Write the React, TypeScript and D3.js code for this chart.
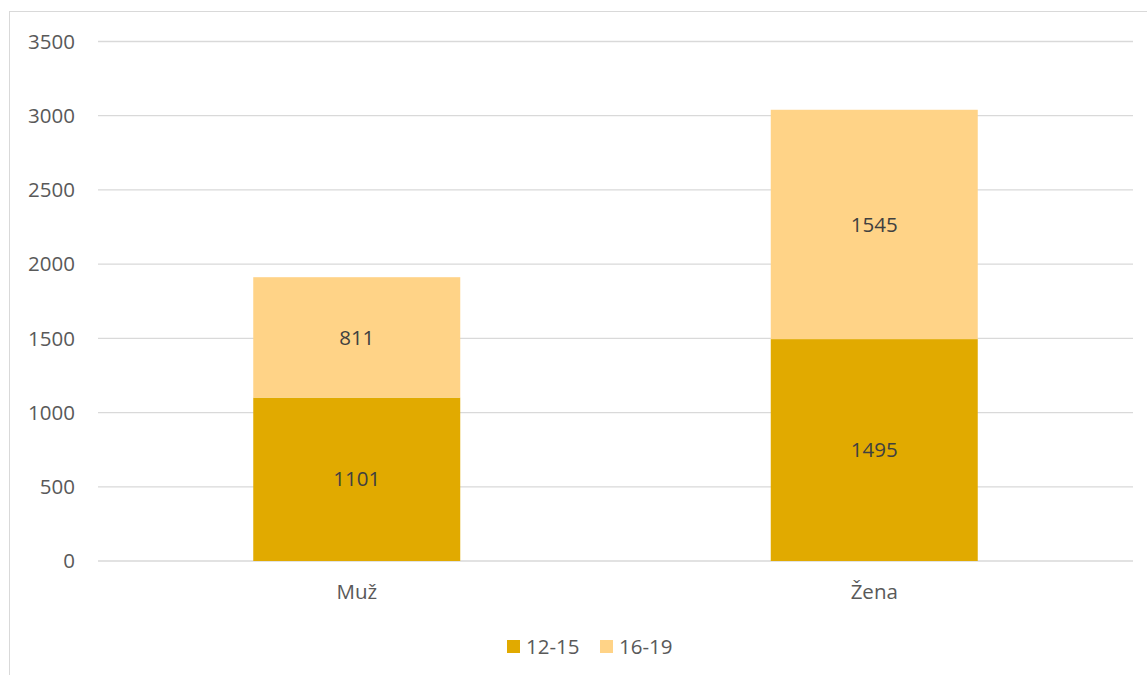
import React from "react";
import * as d3 from "d3";

const categories = ["Muž", "Žena"];
const seriesNames = ["12-15", "16-19"];
const values1215 = [1101, 1495];
const values1619 = [811, 1545];
const yTicks = [0, 500, 1000, 1500, 2000, 2500, 3000, 3500];
const colors = ["#E1AA00", "#FFD387"];

const W = 1147;
const H = 675;
const plotLeft = 98;
const plotRight = 1133;
const plotTop = 41.5;
const plotBottom = 561;
const font = "'Open Sans', 'Liberation Sans', sans-serif";
const textColor = "#595959";
const fs = 20.5;

export default function App() {
  const x = d3.scaleBand().domain(categories).range([plotLeft, plotRight]).paddingInner(0.6).paddingOuter(0.3);
  const y = d3.scaleLinear().domain([0, 3500]).range([plotBottom, plotTop]);
  const rows = categories.map((c, i) => ({ cat: c, s0: values1215[i], s1: values1619[i] }));
  const stack = d3.stack<any>().keys(["s0", "s1"])(rows);
  const legendItems = [
    { name: seriesNames[0], color: colors[0], x: 507 },
    { name: seriesNames[1], color: colors[1], x: 600 },
  ];
  return (
    <svg
      width={W}
      height={H}
      style={{ position: "fixed", left: 0, top: 0, background: "#fff" }}
      fontFamily={font}
    >
      <rect x={9.5} y={11.5} width={W + 10} height={H + 10} fill="#fff" stroke="#D9D9D9" strokeWidth={1} />
      {yTicks.map((t) => (
        <g key={t}>
          <line x1={plotLeft} x2={plotRight} y1={y(t)} y2={y(t)} stroke="#D9D9D9" strokeWidth={1.3} />
          <text x={75} y={y(t)} dy="0.35em" textAnchor="end" fontSize={fs} fill={textColor}>
            {t}
          </text>
        </g>
      ))}
      {stack.map((layer, li) =>
        layer.map((d, i) => (
          <g key={`${li}-${i}`}>
            <rect
              x={x(categories[i])}
              y={y(d[1])}
              width={x.bandwidth()}
              height={y(d[0]) - y(d[1])}
              fill={colors[li]}
            />
            <text
              x={(x(categories[i]) as number) + x.bandwidth() / 2}
              y={(y(d[0]) + y(d[1])) / 2}
              dy="0.35em"
              textAnchor="middle"
              fontSize={fs}
              fill="#404040"
            >
              {d[1] - d[0]}
            </text>
          </g>
        ))
      )}
      {categories.map((c) => (
        <text
          key={c}
          x={(x(c) as number) + x.bandwidth() / 2}
          y={592}
          dy="0.35em"
          textAnchor="middle"
          fontSize={fs}
          fill={textColor}
        >
          {c}
        </text>
      ))}
      {legendItems.map((l) => (
        <g key={l.name}>
          <rect x={l.x} y={640} width={13} height={13} fill={l.color} />
          <text x={l.x + 19} y={646.5} dy="0.35em" fontSize={fs} fill={textColor}>
            {l.name}
          </text>
        </g>
      ))}
    </svg>
  );
}
